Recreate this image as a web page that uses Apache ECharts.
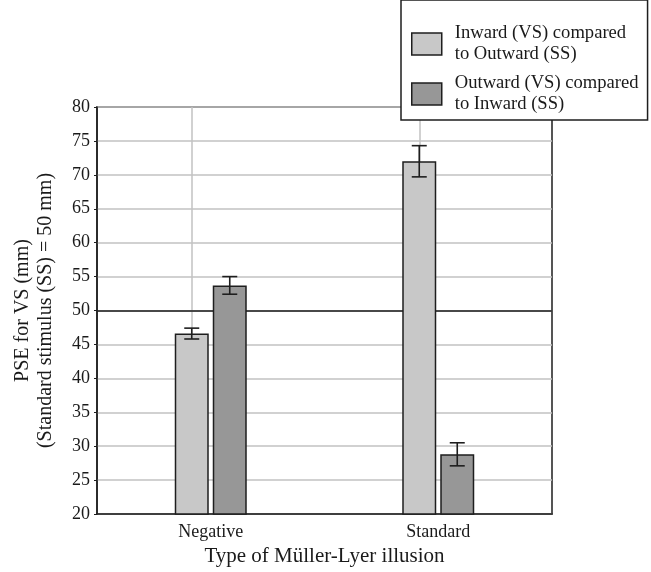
<!DOCTYPE html>
<html>
<head>
<meta charset="utf-8">
<script src="https://cdn.jsdelivr.net/npm/echarts@6/dist/echarts.min.js"></script>
<style>
  html, body { margin: 0; padding: 0; background: #fff; }
  #chart { width: 651px; height: 572px; }
</style>
</head>
<body>
<div id="chart"></div>
<script>
// Müller-Lyer illusion: point of subjective equality per condition
const categories = ['Negative', 'Standard'];
const seriesNames = [
  'Inward (VS) compared\nto Outward (SS)',
  'Outward (VS) compared\nto Inward (SS)'
];
const inwardValues = [46.6, 72.0];
const inwardErrors = [0.8, 2.3];
const outwardValues = [53.7, 28.8];
const outwardErrors = [1.3, 1.7];
const referenceLevel = 50;
const yTicks = [20, 25, 30, 35, 40, 45, 50, 55, 60, 65, 70, 75, 80];

const FONT = '"Liberation Serif", "DejaVu Serif", serif';
const BAR_W = 34;
const BAR_GAP_PX = 4;
const LIGHT = '#c8c8c8';
const DARK = '#979797';
const EDGE = '#1e1e1e';
const GRID_GREY = '#c2c2c2';

// whisker for each bar, shifted from the category centre to its bar
function errorSeries(values, errors, side) {
  return {
    type: 'custom',
    z: 4,
    silent: true,
    data: values.map((v, i) => [i, v, errors[i]]),
    renderItem: function (params, api) {
      const idx = api.value(0);
      const val = api.value(1);
      const err = api.value(2);
      const dx = side * (BAR_W + BAR_GAP_PX) / 2;
      const top = api.coord([idx, val + err]);
      const bot = api.coord([idx, val - err]);
      const x = top[0] + dx;
      const half = 7.5;
      const st = { stroke: EDGE, lineWidth: 1.6 };
      return {
        type: 'group',
        children: [
          { type: 'line', shape: { x1: x, y1: top[1], x2: x, y2: bot[1] }, style: st },
          { type: 'line', shape: { x1: x - half, y1: top[1], x2: x + half, y2: top[1] }, style: st },
          { type: 'line', shape: { x1: x - half, y1: bot[1], x2: x + half, y2: bot[1] }, style: st }
        ]
      };
    }
  };
}

const chart = echarts.init(document.getElementById('chart'), null, { renderer: 'canvas' });

chart.setOption({
  animation: false,
  backgroundColor: '#ffffff',
  grid: {
    left: 97, right: 99, top: 107, bottom: 58,
    containLabel: false,
    outerBoundsMode: 'none',
    show: true, borderColor: EDGE, borderWidth: 1.5, backgroundColor: 'transparent'
  },
  legend: {
    orient: 'vertical',
    left: 401, top: 0,
    padding: [23, 9, 5, 10],
    itemGap: 8,
    itemWidth: 30, itemHeight: 22,
    backgroundColor: '#ffffff',
    borderColor: EDGE, borderWidth: 1.5,
    z: 10,
    textStyle: { fontFamily: FONT, fontSize: 18.6, color: '#1a1a1a', lineHeight: 21, padding: [0, 0, 0, 8] },
    data: [
      { name: seriesNames[0], icon: 'rect', itemStyle: { color: LIGHT, borderColor: EDGE, borderWidth: 1.5 } },
      { name: seriesNames[1], icon: 'rect', itemStyle: { color: DARK, borderColor: EDGE, borderWidth: 1.5 } }
    ]
  },
  xAxis: {
    type: 'category',
    data: categories,
    boundaryGap: true,
    name: 'Type of Müller-Lyer illusion',
    nameLocation: 'middle',
    nameGap: 28,
    nameTextStyle: { fontFamily: FONT, fontSize: 21, color: '#1a1a1a' },
    axisLine: { show: true, lineStyle: { color: EDGE, width: 1.5 } },
    axisTick: { show: false },
    axisLabel: { fontFamily: FONT, fontSize: 18, color: '#1a1a1a', margin: 9 },
    splitLine: { show: false }
  },
  yAxis: {
    type: 'value',
    min: yTicks[0], max: yTicks[yTicks.length - 1], interval: 5,
    name: 'PSE for VS (mm)\n(Standard stimulus (SS) = 50 mm)',
    nameLocation: 'middle',
    nameRotate: 90,
    nameGap: 40,
    nameTextStyle: { fontFamily: FONT, fontSize: 20, color: '#1a1a1a', lineHeight: 23 },
    axisLine: { show: true, lineStyle: { color: EDGE, width: 1.5 } },
    axisTick: { show: true, length: 3, lineStyle: { color: EDGE, width: 1 } },
    axisLabel: { fontFamily: FONT, fontSize: 18, color: '#1a1a1a', margin: 7 },
    splitLine: { show: true, lineStyle: { color: GRID_GREY, width: 1.5 } }
  },
  series: [
    {
      name: seriesNames[0],
      type: 'bar',
      z: 2,
      barWidth: BAR_W,
      barGap: (BAR_GAP_PX / BAR_W * 100) + '%',
      data: inwardValues,
      itemStyle: { color: LIGHT, borderColor: EDGE, borderWidth: 1.5 },
      markLine: {
        silent: true,
        symbol: 'none',
        z: 1,
        label: { show: false },
        data: [
          { xAxis: categories[0], lineStyle: { color: GRID_GREY, width: 1.5, type: 'solid' } },
          { xAxis: categories[1], lineStyle: { color: GRID_GREY, width: 1.5, type: 'solid' } },
          { yAxis: referenceLevel, lineStyle: { color: '#1a1a1a', width: 1.5, type: 'solid' } }
        ]
      }
    },
    {
      name: seriesNames[1],
      type: 'bar',
      z: 2,
      barWidth: BAR_W,
      data: outwardValues,
      itemStyle: { color: DARK, borderColor: EDGE, borderWidth: 1.5 }
    },
    errorSeries(inwardValues, inwardErrors, -1),
    errorSeries(outwardValues, outwardErrors, 1)
  ]
});
</script>
</body>
</html>
